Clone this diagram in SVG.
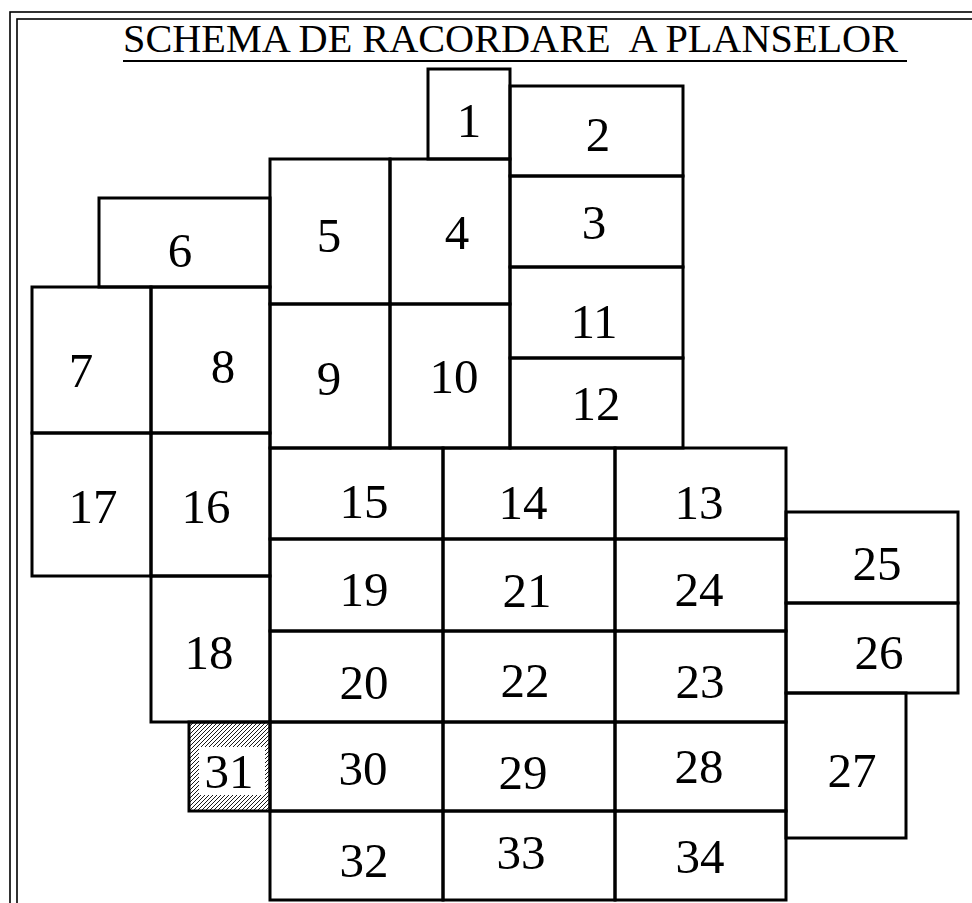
<svg xmlns="http://www.w3.org/2000/svg" width="972" height="903" viewBox="0 0 972 903">
<style>
.frame{fill:none;stroke:#000;stroke-width:1.6}
.box{fill:none;stroke:#000;stroke-width:3}
.num{font-family:"Liberation Serif","Times New Roman",serif;font-size:49px;fill:#000;text-anchor:middle}
.title{font-family:"Liberation Serif","Times New Roman",serif;font-size:39px;fill:#000}
</style>
<defs>
<pattern id="hatch" patternUnits="userSpaceOnUse" width="4" height="4">
<path d="M-1,1 L1,-1 M0,4 L4,0 M3,5 L5,3" stroke="#000" stroke-width="0.9"/>
</pattern>
</defs>
<rect width="972" height="903" fill="#fff"/>
<g id="frame">
<rect class="frame" x="10" y="12" width="1000" height="920"/>
<rect class="frame" x="17" y="19" width="1000" height="920"/>
</g>
<g id="title">
<text class="title" x="123" y="52" textLength="775" lengthAdjust="spacingAndGlyphs" xml:space="preserve">SCHEMA DE RACORDARE  A PLANSELOR</text>
<line x1="123" y1="61" x2="907" y2="61" stroke="#000" stroke-width="2"/>
</g>
<g id="connectors"></g>
<g id="n1"><rect class="box" x="428" y="69" width="82" height="90"/><text class="num" x="469" y="137">1</text></g>
<g id="n2"><rect class="box" x="510" y="86" width="173" height="90"/><text class="num" x="598" y="151">2</text></g>
<g id="n3"><rect class="box" x="510" y="176" width="173" height="91"/><text class="num" x="594" y="239">3</text></g>
<g id="n4"><rect class="box" x="390" y="159" width="120" height="145"/><text class="num" x="457" y="249">4</text></g>
<g id="n5"><rect class="box" x="270" y="159" width="120" height="145"/><text class="num" x="329" y="252">5</text></g>
<g id="n6"><rect class="box" x="99" y="198" width="171" height="89"/><text class="num" x="180" y="267">6</text></g>
<g id="n7"><rect class="box" x="32" y="287" width="119" height="146"/><text class="num" x="81" y="387">7</text></g>
<g id="n8"><rect class="box" x="151" y="287" width="119" height="146"/><text class="num" x="223" y="383">8</text></g>
<g id="n9"><rect class="box" x="270" y="304" width="120" height="144"/><text class="num" x="329" y="395">9</text></g>
<g id="n10"><rect class="box" x="390" y="304" width="120" height="144"/><text class="num" x="454" y="393">10</text></g>
<g id="n11"><rect class="box" x="510" y="267" width="173" height="91"/><text class="num" x="594" y="338">11</text></g>
<g id="n12"><rect class="box" x="510" y="358" width="173" height="90"/><text class="num" x="596" y="420">12</text></g>
<g id="n13"><rect class="box" x="615" y="448" width="171" height="91"/><text class="num" x="699" y="519">13</text></g>
<g id="n14"><rect class="box" x="443" y="448" width="172" height="91"/><text class="num" x="523" y="519">14</text></g>
<g id="n15"><rect class="box" x="270" y="448" width="173" height="91"/><text class="num" x="364" y="518">15</text></g>
<g id="n16"><rect class="box" x="151" y="433" width="119" height="143"/><text class="num" x="206" y="523">16</text></g>
<g id="n17"><rect class="box" x="32" y="433" width="119" height="143"/><text class="num" x="93" y="523">17</text></g>
<g id="n18"><rect class="box" x="151" y="576" width="119" height="146"/><text class="num" x="209" y="669">18</text></g>
<g id="n19"><rect class="box" x="270" y="539" width="173" height="92"/><text class="num" x="364" y="606">19</text></g>
<g id="n20"><rect class="box" x="270" y="631" width="173" height="91"/><text class="num" x="364" y="699">20</text></g>
<g id="n21"><rect class="box" x="443" y="539" width="172" height="92"/><text class="num" x="527" y="607">21</text></g>
<g id="n22"><rect class="box" x="443" y="631" width="172" height="91"/><text class="num" x="525" y="697">22</text></g>
<g id="n23"><rect class="box" x="615" y="631" width="171" height="91"/><text class="num" x="700" y="698">23</text></g>
<g id="n24"><rect class="box" x="615" y="539" width="171" height="92"/><text class="num" x="699" y="606">24</text></g>
<g id="n25"><rect class="box" x="786" y="512" width="172" height="91"/><text class="num" x="877" y="580">25</text></g>
<g id="n26"><rect class="box" x="786" y="603" width="172" height="90"/><text class="num" x="879" y="669">26</text></g>
<g id="n27"><rect class="box" x="786" y="693" width="120" height="145"/><text class="num" x="852" y="787">27</text></g>
<g id="n28"><rect class="box" x="615" y="722" width="171" height="89"/><text class="num" x="699" y="783">28</text></g>
<g id="n29"><rect class="box" x="443" y="722" width="172" height="89"/><text class="num" x="523" y="789">29</text></g>
<g id="n30"><rect class="box" x="270" y="722" width="173" height="89"/><text class="num" x="363" y="785">30</text></g>
<g id="n31">
<rect x="189" y="722" width="81" height="89" fill="url(#hatch)"/>
<rect x="199" y="747" width="66" height="48" fill="#fff"/>
<rect class="box" x="189" y="722" width="81" height="89"/>
<text class="num" x="229" y="788">31</text>
</g>
<g id="n32"><rect class="box" x="270" y="811" width="173" height="89"/><text class="num" x="364" y="877">32</text></g>
<g id="n33"><rect class="box" x="443" y="811" width="172" height="89"/><text class="num" x="521" y="869">33</text></g>
<g id="n34"><rect class="box" x="615" y="811" width="171" height="89"/><text class="num" x="700" y="873">34</text></g>
</svg>
